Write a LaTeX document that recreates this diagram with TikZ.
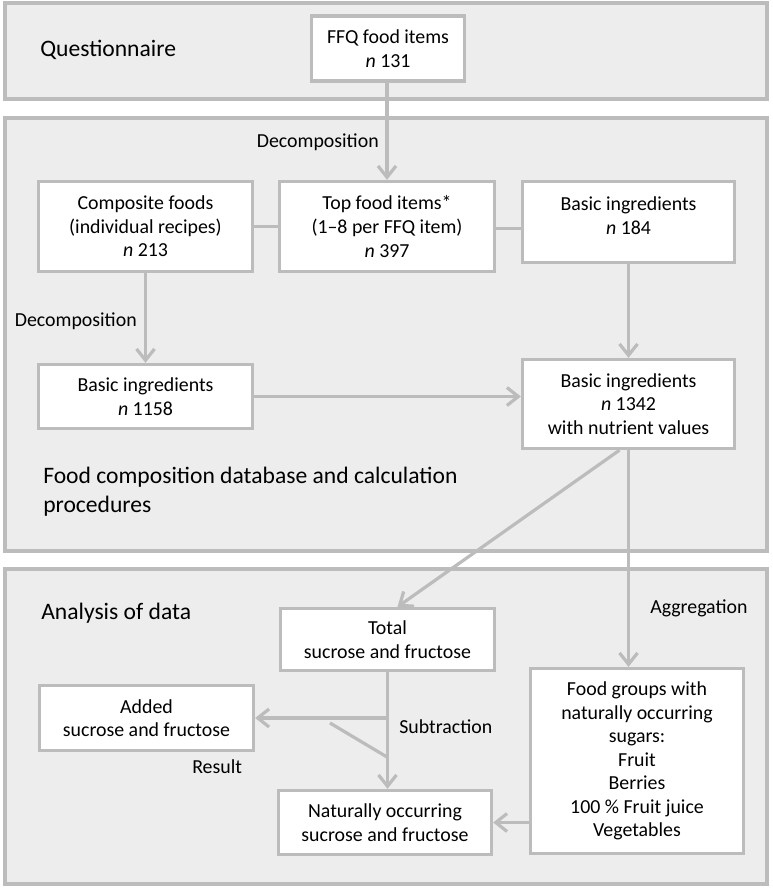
\documentclass[tikz,border=0pt]{standalone}
\usepackage{fontspec}
\setmainfont{Carlito}
\usetikzlibrary{calc, arrows.meta}

\definecolor{linegray}{RGB}{188,188,188}
\definecolor{panelgray}{RGB}{237,237,237}

\newcommand{\px}{0.75pt}
\newcommand{\boxfont}{\fontsize{14.9}{17.7}\selectfont}
\newcommand{\headfont}{\fontsize{17.7}{21.75}\selectfont}

\begin{document}
\begin{tikzpicture}[x=0.75pt, y=-0.75pt,
		panel/.style={draw=linegray, fill=panelgray, line width=2.5pt},
		box/.style={draw=linegray, fill=white, line width=2.5pt, align=center, font=\boxfont, inner sep=0pt},
		lbl/.style={font=\boxfont, inner sep=0pt},
		head/.style={font=\headfont, inner sep=0pt, align=left},
		conn/.style={draw=linegray, line width=2.4pt},
		arr/.style={conn, -{Straight Barb[length=8.5pt, width=13.5pt, line width=2.4pt]}}]
		
		\useasboundingbox (0,0) rectangle (772,888);
		
		% panels
		\draw[panel] (5,3) rectangle (767,99);
		\draw[panel] (5,118) rectangle (767,551);
		\draw[panel] (5,569) rectangle (767,884);
		
		\node[head, anchor=west] (quest) at (40,50) {Questionnaire};
		\node[head, anchor=west] (fcdb) at (43,492) {Food composition database and calculation\\procedures};
		\node[head, anchor=west] (anal) at (41,613) {Analysis of data};
		
		% boxes
		\node[box, minimum width=153*\px, minimum height=65*\px] (ffq) at (388,48.5) {FFQ food items\\\textit{n} 131};
		\node[box, minimum width=215*\px, minimum height=90*\px] (top) at (387,226.5) {Top food items*\\(1--8 per FFQ item)\\\textit{n} 397};
		\node[box, minimum width=214*\px, minimum height=90*\px] (comp) at (145.5,226.5) {Composite foods\\(individual recipes)\\\textit{n} 213};
		\node[box, minimum width=212*\px, minimum height=81*\px, text depth=9.75pt] (b184) at (628.5,222) {Basic ingredients\\\textit{n} 184};
		\node[box, minimum width=214*\px, minimum height=64*\px] (b1158) at (145.5,396.5) {Basic ingredients\\\textit{n} 1158};
		\node[box, minimum width=212*\px, minimum height=89*\px] (b1342) at (628.5,404) {Basic ingredients\\\textit{n} 1342\\with nutrient values};
		\node[box, minimum width=214*\px, minimum height=62*\px] (total) at (387.5,639.5) {Total\\sucrose and fructose};
		\node[box, minimum width=214*\px, minimum height=65*\px] (added) at (146.5,718) {Added\\sucrose and fructose};
		\node[box, minimum width=213*\px, minimum height=64*\px] (natural) at (385,822.5) {Naturally occurring\\sucrose and fructose};
		\node[box, minimum width=213*\px, minimum height=185*\px] (groups) at (637,761) {Food groups with\\naturally occurring\\sugars:\\Fruit\\Berries\\100 \% Fruit juice\\Vegetables};
		
		% labels
		\node[lbl, anchor=east] (dec1) at (379,142) {Decomposition};
		\node[lbl, anchor=east] (dec2) at (137,321) {Decomposition};
		\node[lbl, anchor=west] (agg) at (650,608) {Aggregation};
		\node[lbl, anchor=west] (sub) at (399,727) {Subtraction};
		\node[lbl, anchor=west] (res) at (192,767) {Result};
		
		% connectors
		\draw[arr] (ffq.south -| top.north) -- (top.north);
		\draw[conn] (comp.east) -- (top.west);
		\draw[conn] ($(top.east)+(0,2)$) -- ($(top.east -| b184.west)+(0,2)$);
		\draw[arr] (comp.south) -- (b1158.north);
		\draw[arr] (b184.south) -- (b1342.north);
		\draw[arr] (b1158.east) -- (b1158.east -| b1342.west);
		\draw[arr] ($(b1342.south)+(-9,0)$) -- ($(total.north)+(10,0)$);
		\draw[arr] (b1342.south) -- (b1342.south |- groups.north);
		\draw[arr] (total.south) -- (total.south |- natural.north);
		
		\coordinate (split) at (total.south |- added.east);
		\coordinate (s1) at (330,723);
		\coordinate (s2) at (387,757);
		\draw[arr] (split) -- (added.east);
		\draw[conn] (s1) -- (s2);
		\draw[arr] (groups.west |- natural.east) -- (natural.east);
	\end{tikzpicture}
\end{document}
